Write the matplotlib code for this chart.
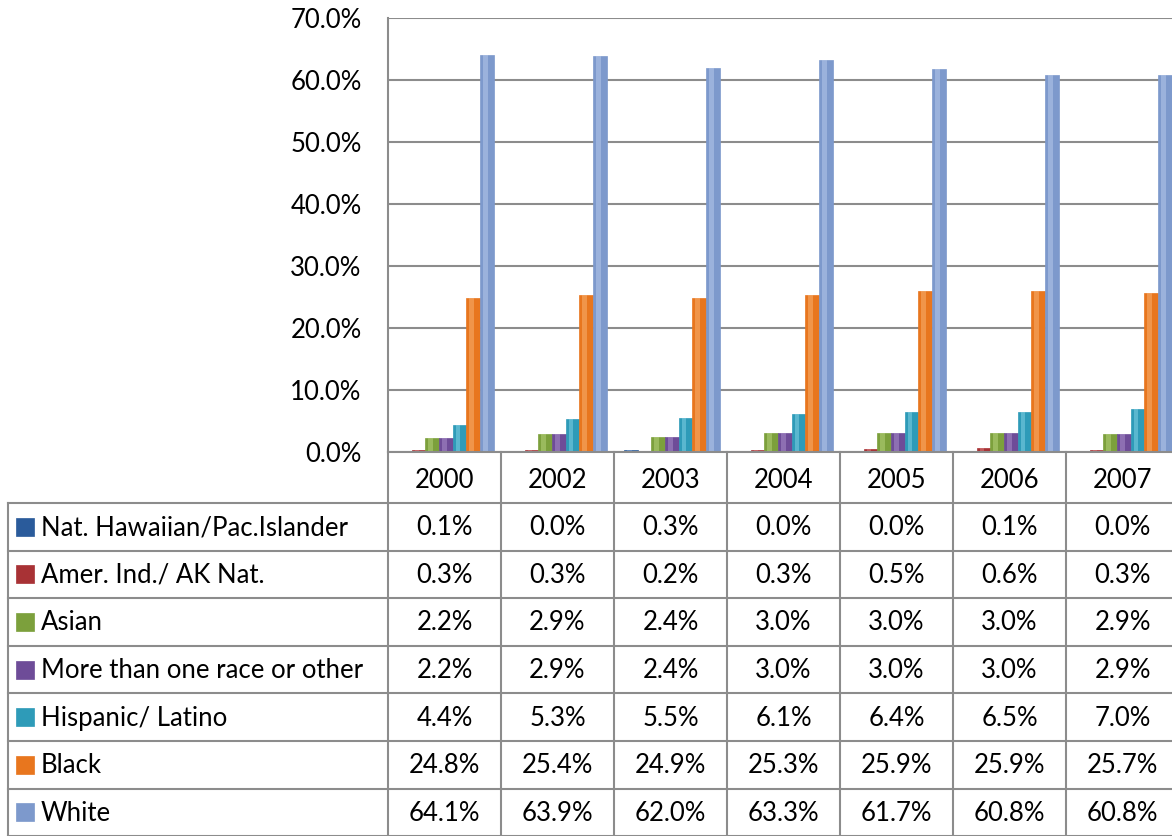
import matplotlib.pyplot as plt
from matplotlib.patches import Rectangle
import numpy as np

plt.rcParams['font.family'] = ['Lato', 'DejaVu Sans']

years = ['2000', '2002', '2003', '2004', '2005', '2006', '2007']
series = ['Nat. Hawaiian/Pac.Islander', 'Amer. Ind./ AK Nat.', 'Asian',
          'More than one race or other', 'Hispanic/ Latino', 'Black', 'White']
nat_hawaiian = [0.1, 0.0, 0.3, 0.0, 0.0, 0.1, 0.0]
amer_ind = [0.3, 0.3, 0.2, 0.3, 0.5, 0.6, 0.3]
asian = [2.2, 2.9, 2.4, 3.0, 3.0, 3.0, 2.9]
more_than_one = [2.2, 2.9, 2.4, 3.0, 3.0, 3.0, 2.9]
hispanic = [4.4, 5.3, 5.5, 6.1, 6.4, 6.5, 7.0]
black = [24.8, 25.4, 24.9, 25.3, 25.9, 25.9, 25.7]
white = [64.1, 63.9, 62.0, 63.3, 61.7, 60.8, 60.8]
values = [nat_hawaiian, amer_ind, asian, more_than_one, hispanic, black, white]

colors = ['#2a5b9b', '#a83235', '#7ca03c', '#6e4c98', '#2e9bb8', '#e8761e', '#7d99cc']
light = ['#7fa6d8', '#d87a7c', '#b4d07a', '#a88cc8', '#80cfe2', '#f7b070', '#b5c8ea']

W, H = 1172, 836
fig = plt.figure(figsize=(W / 100, H / 100), dpi=100)

# layout in pixels
plot_left, plot_top, plot_bottom = 388, 18, 452
col_w = 113
fs = 18.5

ax = fig.add_axes([plot_left / W, (H - plot_bottom) / H,
                   len(years) * col_w / W, (plot_bottom - plot_top) / H])
x = np.arange(len(years))
bw = 0.121
for k, (vals, c, lc) in enumerate(zip(values, colors, light)):
    pos = x + (k - 3) * bw + 0.013
    ax.bar(pos, vals, width=bw, color=c, edgecolor=c, linewidth=0.5, zorder=3)
    ax.bar(pos - bw * 0.12, vals, width=bw * 0.35, color=lc, alpha=0.55,
           linewidth=0, zorder=4)
ax.set_xlim(-0.5, len(years) - 0.5)
ax.set_ylim(0, 70)
ax.set_yticks(np.arange(0, 71, 10))
ax.set_yticklabels(['%.1f%%' % v for v in np.arange(0, 71, 10)], fontsize=fs)
ax.tick_params(axis='y', length=0, pad=19)
ax.set_xticks([])
ax.grid(axis='y', color='#8c8c8c', linewidth=1.5, zorder=0)
for s in ['right', 'bottom', 'top']:
    ax.spines[s].set_visible(False)
ax.spines['left'].set_color('#8c8c8c')
ax.spines['left'].set_linewidth(1.5)

# data table drawn in pixel coordinates
tb = fig.add_axes([0, 0, 1, 1])
tb.set_xlim(0, W)
tb.set_ylim(H, 0)
tb.axis('off')
lc_ = '#8c8c8c'
table_left = 8
header_bottom = 503
row_h = 47.6
right = plot_left + len(years) * col_w
n_rows = len(series)
table_bottom = header_bottom + n_rows * row_h
# horizontal lines
tb.plot([plot_left, right], [plot_bottom, plot_bottom], color=lc_, lw=1.5)
for r in range(n_rows + 1):
    yy = header_bottom + r * row_h
    tb.plot([table_left, right], [yy, yy], color=lc_, lw=1.5)
# vertical lines
tb.plot([table_left, table_left], [header_bottom, table_bottom], color=lc_, lw=1.5)
for i in range(len(years) + 1):
    xx = plot_left + i * col_w
    tb.plot([xx, xx], [plot_bottom, table_bottom], color=lc_, lw=1.5)
# header
for i, yr in enumerate(years):
    tb.text(plot_left + (i + 0.5) * col_w, (plot_bottom + header_bottom) / 2 + 3, yr,
            ha='center', va='center', fontsize=fs)
# rows
for r, (name, vals, c) in enumerate(zip(series, values, colors)):
    yc = header_bottom + (r + 0.5) * row_h + 1
    tb.add_patch(Rectangle((16, yc - 10), 18, 18, facecolor=c, edgecolor=c, lw=0.5))
    tb.text(41, yc, name, ha='left', va='center', fontsize=fs)
    for i, v in enumerate(vals):
        tb.text(plot_left + (i + 0.5) * col_w, yc, '%.1f%%' % v,
                ha='center', va='center', fontsize=fs)

fig.savefig('out.png', dpi=100)
